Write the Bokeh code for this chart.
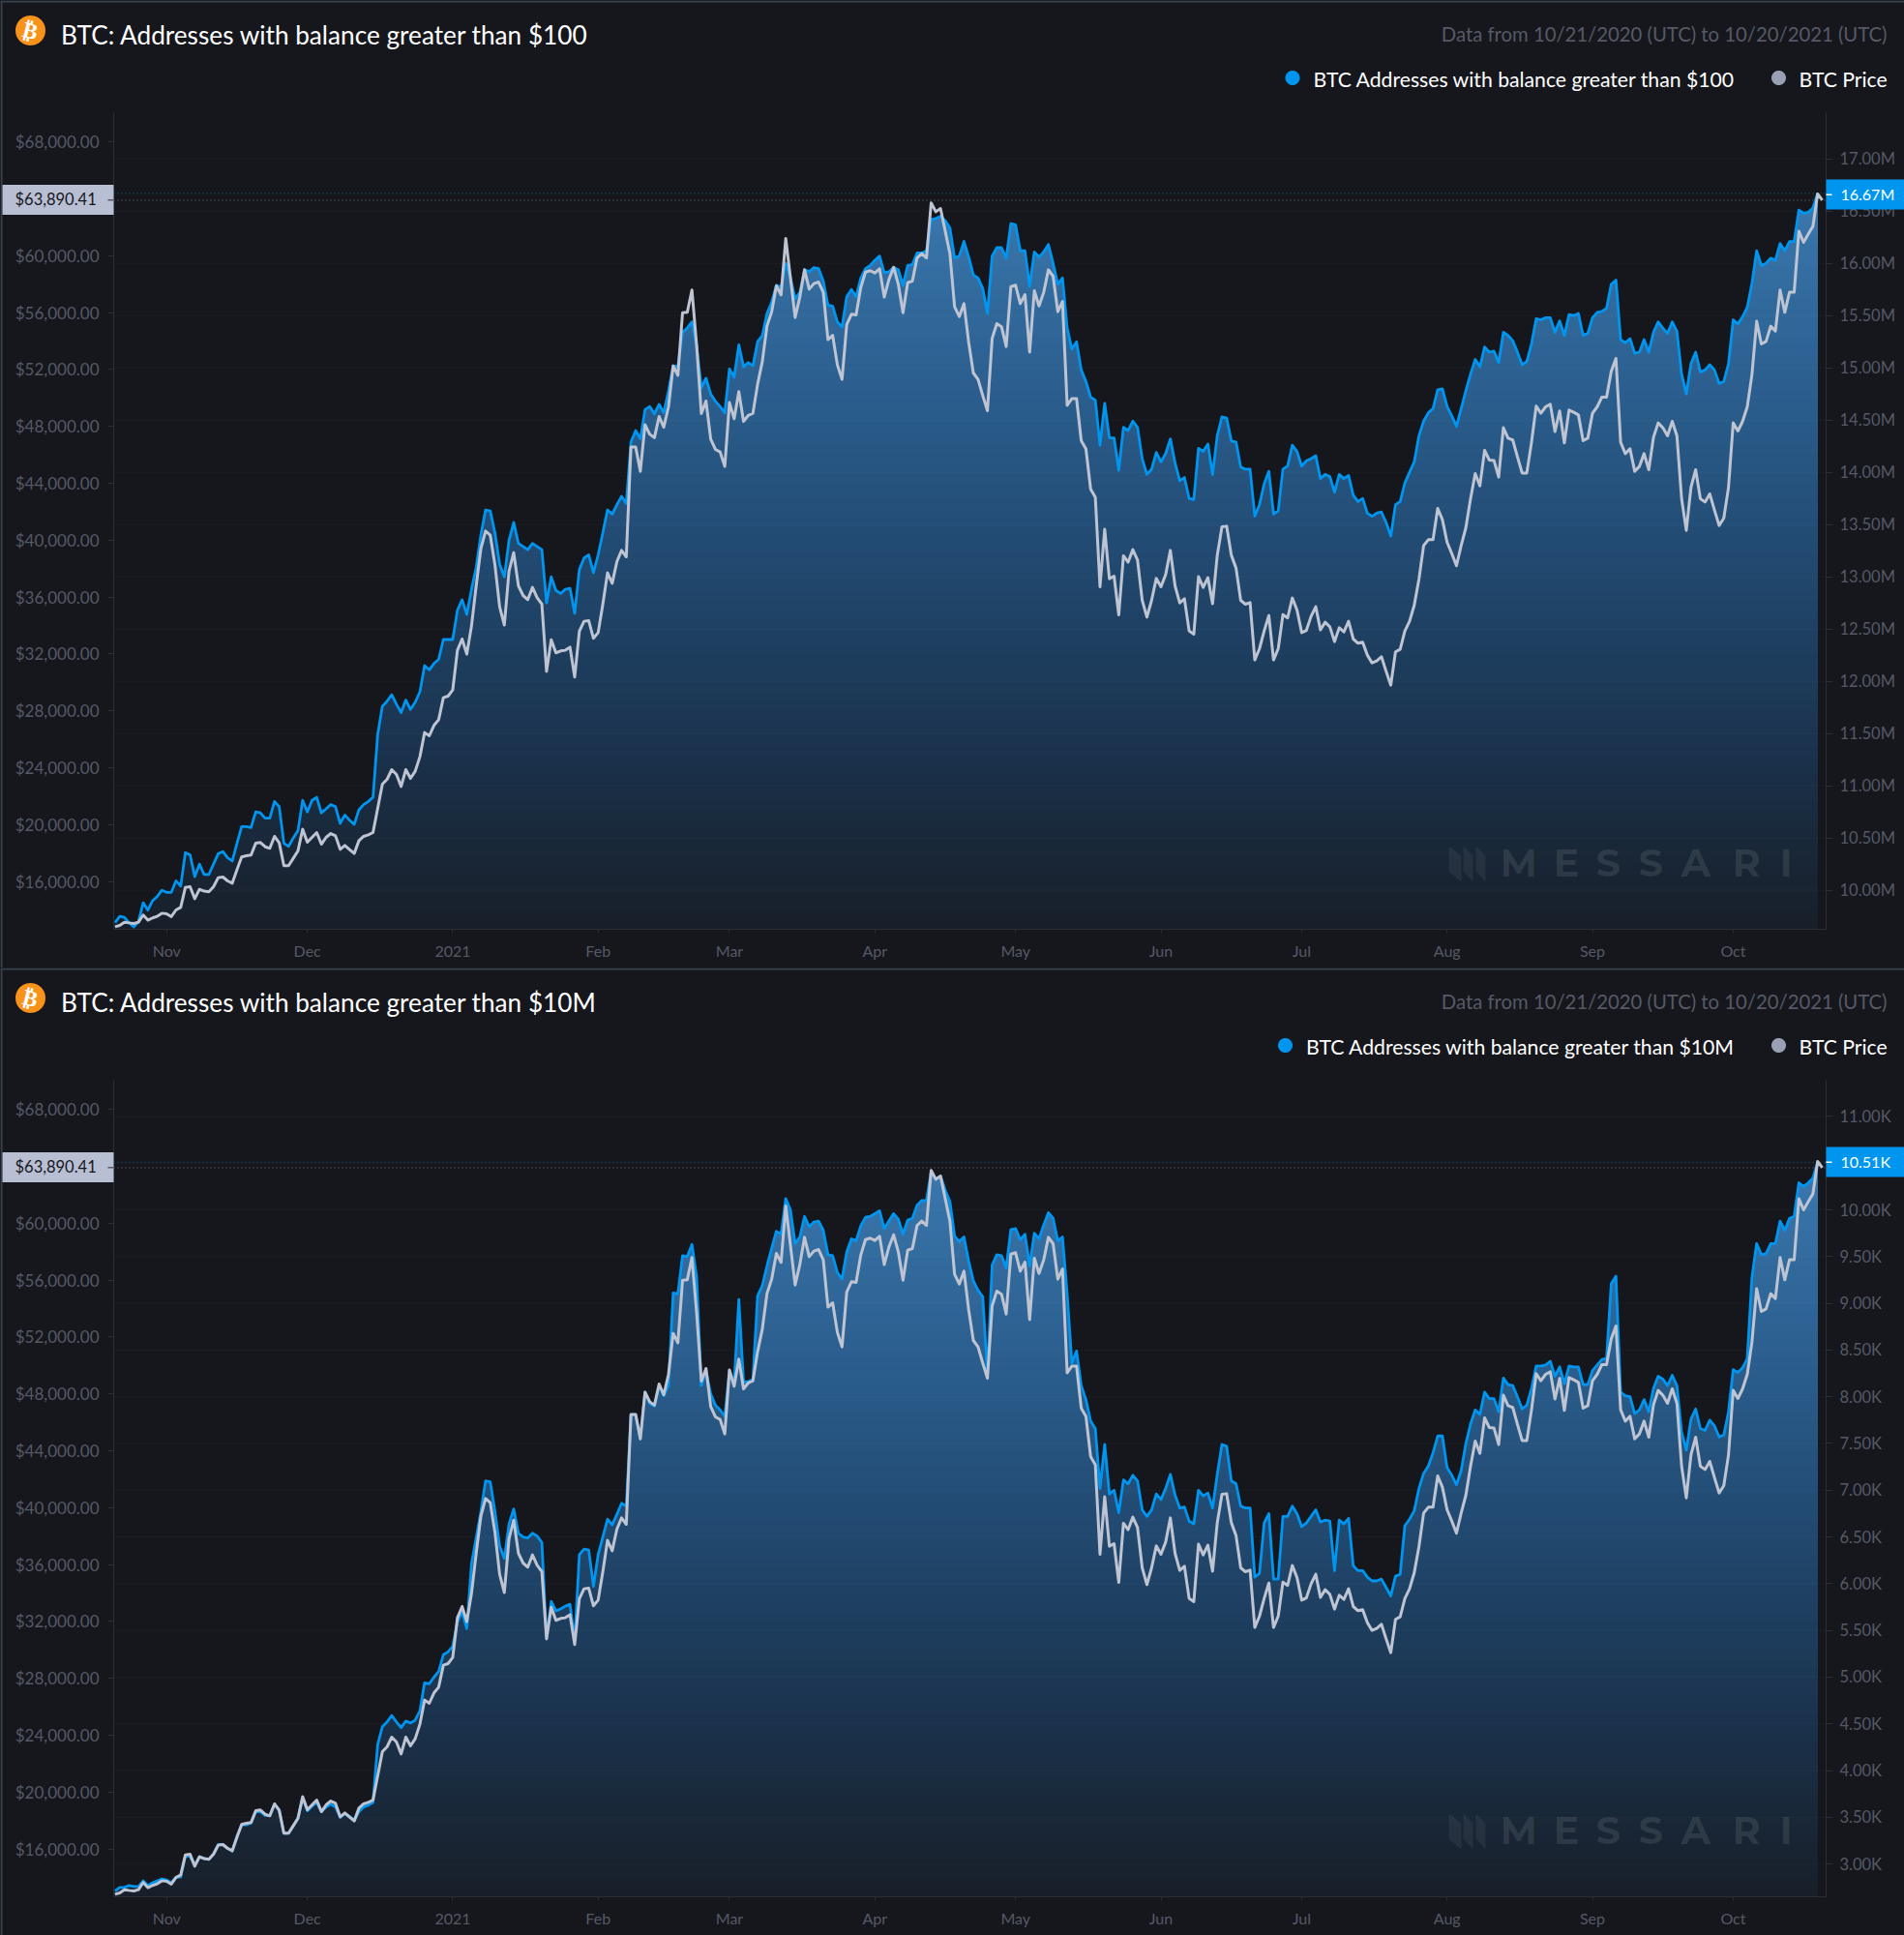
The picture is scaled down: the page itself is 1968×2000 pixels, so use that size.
import math
from datetime import datetime, timedelta, timezone
from bokeh.embed import file_html
from bokeh.layouts import column
from bokeh.models import FixedTicker, Label, LinearAxis, PolyAnnotation, Range1d
from bokeh.plotting import figure
from bokeh.resources import INLINE

# BTC price, thousand USD, one value a day from 2020-10-21
price_k = [
12.83,12.92,13.15,13.1,13.06,13.15,13.65,13.29,13.45,13.56,13.78,13.74,13.54,14.01,14.19,15.6,15.64,14.8,15.46,15.33,
15.28,15.64,16.28,16.32,16.05,15.89,16.84,17.73,17.82,17.87,18.7,18.75,18.45,18.34,19.18,18.73,17.12,17.12,17.64,18.16,
19.68,18.77,19.11,19.45,18.63,19.11,19.38,19.22,18.27,18.54,18.25,17.98,18.88,19.18,19.29,19.45,21.15,22.85,23.19,23.87,
23.53,22.69,23.87,23.26,23.76,24.78,26.48,26.25,26.98,27.38,28.93,29.04,29.47,32.26,33.05,31.99,33.96,36.79,39.4,40.64,
40.35,38.26,35.32,34.03,37.81,39.12,36.79,36.11,35.82,36.68,35.95,35.5,30.78,33.0,32.08,32.21,32.26,32.48,30.38,
33.6,34.3,34.34,33.1,33.5,35.5,37.7,36.97,38.49,39.28,38.83,46.54,46.54,44.84,48.12,47.44,47.2,48.69,47.94,49.37,52.25,
51.59,55.99,56.01,57.58,53.68,48.9,49.78,47.1,46.38,46.2,45.18,49.67,48.53,50.44,48.35,48.76,48.92,50.96,52.54,55.04,
56.06,57.87,57.24,61.2,58.44,55.65,57.08,59.0,57.64,58.03,58.14,57.42,54.09,54.4,52.32,51.3,55.15,55.88,55.83,57.76,
58.84,58.94,58.78,59.07,57.08,58.32,59.18,57.98,55.99,58.1,58.21,59.84,60.14,59.84,63.7,63.08,63.31,61.72,60.14,56.4,
55.72,56.62,53.9,51.75,51.3,50.16,49.1,54.17,55.22,55.0,53.61,
57.82,57.92,56.62,57.26,53.22,57.53,56.46,57.42,59.0,58.55,56.06,56.78,49.48,49.94,49.94,46.99,46.42,43.59,43.02,36.72,
40.76,37.29,37.47,34.75,38.9,38.45,39.33,38.6,35.77,34.59,35.77,37.31,36.72,37.58,39.28,36.79,35.59,35.88,33.62,33.39,
37.43,36.68,37.36,35.54,38.94,40.94,40.98,38.94,38.04,35.77,35.5,35.61,31.58,32.37,33.62,34.7,31.58,32.37,34.77,34.53,
35.93,35.09,33.5,33.66,34.64,35.32,33.69,34.23,33.91,32.87,33.84,33.55,34.3,33.05,32.76,32.83,31.92,31.37,31.51,31.81,
30.78,29.81,32.15,32.33,33.62,34.3,35.43,37.25,39.62,40.03,40.03,42.23,41.44,39.85,39.06,38.2,
39.62,40.87,42.91,44.68,43.82,46.31,45.63,45.59,44.43,47.9,47.17,47.04,45.86,44.72,44.72,46.88,49.42,48.92,49.37,49.55,
47.63,49.08,46.83,49.14,48.99,48.8,46.99,47.17,48.92,49.37,50.05,50.05,51.86,52.77,46.88,46.08,46.42,44.84,45.18,46.08,
44.95,47.22,48.24,47.9,47.33,48.35,47.33,42.91,40.69,43.71,44.95,42.91,42.68,43.25,42.12,41.03,41.55,43.71,48.24,47.67,
48.35,49.37,51.64,55.38,53.79,53.97,55.04,54.7,57.58,56.01,57.42,57.42,61.72,60.93,61.5,62.06,64.33,63.89]

# Addresses with balance greater than $100, millions
addr_100_m = [
9.69,9.75,9.74,9.69,9.65,9.7,9.88,9.81,9.9,9.94,10.0,9.98,9.98,10.09,10.04,10.36,10.34,10.13,10.25,10.15,
10.15,10.25,10.35,10.37,10.31,10.28,10.45,10.61,10.61,10.6,10.75,10.74,10.69,10.69,10.85,10.8,10.45,10.42,10.5,10.57,
10.86,10.75,10.86,10.89,10.74,10.78,10.82,10.8,10.64,10.72,10.67,10.63,10.77,10.82,10.85,10.89,11.49,11.76,11.81,11.87,
11.78,11.7,11.82,11.73,11.8,11.9,12.15,12.11,12.17,12.21,12.4,12.4,12.4,12.68,12.78,12.64,12.88,13.09,13.4,13.64,
13.63,13.42,13.12,13.0,13.35,13.52,13.32,13.29,13.26,13.32,13.29,13.26,12.75,13.0,12.87,12.84,12.88,12.89,
12.65,13.07,13.18,13.21,13.04,13.21,13.42,13.64,13.6,13.69,13.77,13.7,14.29,14.4,14.32,14.6,14.63,14.56,14.65,14.57,
14.78,15.02,15.01,15.34,15.38,15.44,15.21,14.81,14.9,14.75,14.68,14.63,14.57,14.99,14.91,15.22,15.01,15.05,15.02,15.25,
15.31,15.52,15.63,15.79,15.77,16.0,15.86,15.66,15.72,15.94,15.92,15.96,15.95,15.83,15.6,15.59,15.44,15.39,15.68,15.75,
15.68,15.86,15.95,15.98,16.03,16.07,15.91,15.92,15.96,15.94,15.79,15.98,15.99,16.1,16.1,16.12,16.42,16.43,16.45,16.41,
16.34,16.05,16.07,16.21,16.06,15.89,15.86,15.76,15.52,16.07,16.15,16.15,16.05,
16.38,16.37,16.12,16.12,15.78,16.11,16.06,16.11,16.18,16.0,15.8,15.86,15.38,15.18,15.25,14.98,14.87,14.72,14.69,14.26,
14.66,14.33,14.33,14.02,14.43,14.4,14.49,14.43,14.13,13.98,14.03,14.19,14.1,14.18,14.32,14.09,13.92,13.95,13.75,13.74,
14.23,14.2,14.27,13.98,14.35,14.53,14.52,14.3,14.29,14.05,14.03,14.03,13.58,13.69,13.89,14.01,13.6,13.63,14.03,14.06,
14.26,14.2,14.06,14.11,14.13,14.16,13.94,13.98,13.96,13.81,13.98,13.94,13.97,13.78,13.72,13.75,13.61,13.58,13.61,13.62,
13.52,13.39,13.69,13.72,13.9,14.0,14.1,14.35,14.49,14.57,14.61,14.79,14.8,14.63,14.54,14.44,
14.61,14.78,14.94,15.08,15.01,15.2,15.15,15.16,15.05,15.34,15.31,15.26,15.15,15.03,15.06,15.23,15.47,15.46,15.48,15.48,
15.34,15.45,15.31,15.51,15.5,15.52,15.31,15.33,15.48,15.53,15.54,15.57,15.8,15.84,15.27,15.24,15.28,15.14,15.15,15.27,
15.15,15.34,15.44,15.38,15.33,15.44,15.35,14.94,14.75,15.04,15.15,14.96,14.98,15.03,14.98,14.85,14.87,15.04,15.46,15.42,
15.49,15.58,15.81,16.12,15.98,16.0,16.05,16.03,16.19,16.12,16.21,16.21,16.51,16.48,16.49,16.53,16.67]

# Addresses with balance greater than $10M, thousands
addr_10m_k = [
2.71,2.75,2.75,2.77,2.76,2.76,2.82,2.77,2.8,2.82,2.84,2.83,2.8,2.86,2.86,3.09,3.08,2.99,3.08,3.06,
3.05,3.11,3.21,3.21,3.17,3.14,3.3,3.42,3.42,3.44,3.56,3.56,3.52,3.52,3.64,3.58,3.33,3.33,3.41,3.49,
3.71,3.57,3.62,3.66,3.56,3.61,3.64,3.61,3.5,3.54,3.51,3.47,3.56,3.61,3.63,3.66,4.28,4.47,4.52,4.59,
4.52,4.46,4.53,4.51,4.54,4.64,4.94,4.93,5.0,5.06,5.24,5.27,5.33,5.59,5.7,5.52,6.21,6.49,6.77,7.1,
7.09,6.77,6.4,6.27,6.64,6.8,6.54,6.5,6.49,6.54,6.51,6.44,5.42,5.81,5.71,5.73,5.76,5.78,5.39,
6.31,6.37,6.36,5.97,6.31,6.5,6.69,6.63,6.74,6.86,6.83,7.81,7.81,7.55,8.05,7.93,7.9,8.12,8.01,8.12,9.11,
9.1,9.51,9.5,9.63,9.28,8.12,8.28,8.03,7.91,7.86,7.79,8.28,8.14,9.04,8.16,8.16,8.19,9.08,9.19,9.4,
9.59,9.77,9.74,10.12,10.0,9.64,9.71,9.93,9.82,9.87,9.88,9.78,9.52,9.51,9.33,9.26,9.55,9.69,9.67,9.83,
9.92,9.93,9.96,9.99,9.8,9.88,9.96,9.9,9.74,9.89,9.91,10.05,10.1,10.1,10.41,10.33,10.36,10.21,10.09,9.72,
9.66,9.71,9.45,9.24,9.14,9.07,8.24,9.41,9.52,9.51,
9.38,9.79,9.8,9.68,9.74,9.4,9.75,9.69,9.84,9.97,9.91,9.67,9.71,9.1,8.36,8.49,8.12,7.97,7.74,7.66,
7.02,7.49,6.96,7.0,6.76,7.11,7.07,7.16,7.1,6.79,6.72,6.79,6.96,6.9,7.02,7.17,6.95,6.81,6.82,6.67,
6.64,7.0,6.94,6.97,6.81,7.17,7.49,7.47,7.1,7.07,6.83,6.81,6.81,6.07,6.11,6.65,6.75,6.05,6.05,6.72,
6.72,6.83,6.75,6.61,6.65,6.72,6.79,6.66,6.68,6.67,6.14,6.68,6.64,6.7,6.19,6.14,6.14,6.07,6.03,6.03,
6.05,5.96,5.87,6.08,6.1,6.62,6.69,6.78,7.02,7.18,7.26,7.4,7.58,7.58,7.24,7.16,7.06,
7.21,7.5,7.71,7.86,7.81,8.05,7.98,7.98,7.84,8.2,8.13,8.12,8.0,7.87,7.91,8.09,8.33,8.33,8.34,8.38,
8.22,8.32,8.14,8.33,8.32,8.32,8.13,8.13,8.28,8.34,8.4,8.41,9.21,9.29,8.05,8.01,8.0,7.82,7.86,7.97,
7.84,8.09,8.22,8.19,8.12,8.23,8.12,7.62,7.43,7.76,7.87,7.66,7.64,7.75,7.69,7.57,7.59,7.84,8.29,8.26,
8.31,8.41,9.28,9.64,9.52,9.53,9.64,9.64,9.88,9.78,9.91,9.93,10.29,10.25,10.29,10.34,10.51]

price_ticks = list(range(16, 72, 4))
addr_100_ticks = [10 + i * 0.5 for i in range(15)]
addr_10m_ticks = [3 + i * 0.5 for i in range(17)]
month_ticks = [(2020,11,"Nov"),(2020,12,"Dec"),(2021,1,"2021"),(2021,2,"Feb"),(2021,3,"Mar"),(2021,4,"Apr"),
               (2021,5,"May"),(2021,6,"Jun"),(2021,7,"Jul"),(2021,8,"Aug"),(2021,9,"Sep"),(2021,10,"Oct")]
last_price = "$63,890.41"

BG = "#16171d"; BLUE = "#0096f0"; WHITE = "#bfc4d2"; MUTED = "#555966"; FRAME = "#2b2e36"
W, H = 1968, 1000
FL, FR, FT, FB = 117, 1887, 116, 960   # plot box on the canvas, pixels
X0_PX, PX_DAY = 118.4, 4.848

start = datetime(2020, 10, 21, tzinfo=timezone.utc)
dates = [start + timedelta(days=i) for i in range(len(price_k))]
DAY_MS = 86400000.0
T0 = start.timestamp() * 1000

def px_to_ms(px):
    return T0 + (px - X0_PX) / PX_DAY * DAY_MS

stops = [(190,(60,122,176)),(300,(50,106,157)),(420,(42,92,139)),(540,(35,77,118)),(660,(30,63,96)),
         (780,(26,49,75)),(880,(25,38,54)),(960,(24,30,41))]

def grad(y):
    if y <= stops[0][0]:
        return "#%02x%02x%02x" % stops[0][1]
    for (a, ca), (b, cb) in zip(stops, stops[1:]):
        if y <= b:
            t = (y - a) / (b - a)
            return "#%02x%02x%02x" % tuple(round(u + (v - u) * t) for u, v in zip(ca, cb))
    return "#%02x%02x%02x" % stops[-1][1]

def txt(p, x, y, text, size, color, align="left", font="Lato", style="normal", angle=0, alpha=1.0):
    p.add_layout(Label(x=x, y=H - y, x_units="screen", y_units="screen", text=text, text_font=font,
                       text_font_size=f"{size}px", text_color=color, text_align=align, text_baseline="middle",
                       text_font_style=style, angle=angle, angle_units="deg", text_alpha=alpha))

def poly(p, xs, ys, color, alpha=1.0):
    p.add_layout(PolyAnnotation(xs=list(xs), ys=[H - y for y in ys], xs_units="screen", ys_units="screen",
                                fill_color=color, fill_alpha=alpha, line_color=None))

def dot(p, cx, cy, r, color):
    n = 48
    poly(p, [cx + r * math.cos(2 * math.pi * i / n) for i in range(n)],
         [cy + r * math.sin(2 * math.pi * i / n) for i in range(n)], color)

def rect(p, x0, x1, y0, y1, color):
    poly(p, [x0, x1, x1, x0], [y0, y0, y1, y1], color)

def style_axis(ax, size, out, standoff):
    ax.minor_tick_line_color = None
    ax.major_tick_out = out; ax.major_tick_in = 0
    ax.major_tick_line_color = FRAME; ax.axis_line_color = FRAME
    ax.major_label_text_color = MUTED; ax.major_label_text_font = "Lato"
    ax.major_label_text_font_size = f"{size}px"; ax.major_label_standoff = standoff

def panel(title, legend, legend_x, dot_x, series, ticks, rng, fmt, last):
    # the plot frame fills the canvas, so that the axes and texts can sit anywhere on it
    p = figure(width=W, height=H, x_axis_type=None, y_axis_type=None, output_backend="svg", toolbar_location=None,
               x_range=Range1d(px_to_ms(0), px_to_ms(W)), y_range=Range1d(9.93, 77.93),
               min_border=0, background_fill_color=BG, border_fill_color=BG, outline_line_color=None)
    p.extra_y_ranges = {"addr": Range1d(*rng)}
    p.grid.visible = False
    base_a = rng[1] + (rng[0] - rng[1]) * FB / H
    top_a = rng[1] + (rng[0] - rng[1]) * FT / H
    base_p = 77.93 - 68.0 * FB / H
    top_p = 77.93 - 68.0 * FT / H
    xl, xr = px_to_ms(FL), px_to_ms(FR)

    # gradient fill of the address area, as stacked bands from the tallest down
    n = 84
    d = dates[:len(series)]
    for i in range(n):
        y_px = FT + 60 + (FB - FT - 60) * i / (n - 1)
        level = rng[1] + (rng[0] - rng[1]) * y_px / H
        p.varea(x=d, y1=[base_a] * len(series), y2=[min(v, level) for v in series], y_range_name="addr",
                fill_color=grad(y_px), fill_alpha=1.0)

    p.segment(x0=[xl] * len(ticks), x1=[xr] * len(ticks), y0=ticks, y1=ticks, y_range_name="addr",
              line_color="#ffffff", line_alpha=0.10, line_dash="1 3", line_width=1)
    p.segment(x0=[xl], x1=[xr], y0=[last], y1=[last], y_range_name="addr", line_color="#0b628f", line_dash="1 3", line_width=1)
    p.segment(x0=[xl], x1=[xr], y0=[price_k[-1]], y1=[price_k[-1]], line_color="#70737c", line_dash="1 3", line_width=1)

    p.line(d, series, y_range_name="addr", line_color=BLUE, line_width=2.8, line_join="round")
    p.line(dates, price_k, line_color=WHITE, line_width=3, line_join="round")

    ms = [datetime(y, m, 1, tzinfo=timezone.utc).timestamp() * 1000 for y, m, _ in month_ticks]
    ax = LinearAxis(ticker=FixedTicker(ticks=ms), fixed_location=base_p, bounds=(xl, xr))
    ax.major_label_overrides = {t: l for t, (_, _, l) in zip(ms, month_ticks)}
    style_axis(ax, 16, 4, 8)
    p.add_layout(ax, "below")

    ly = LinearAxis(ticker=FixedTicker(ticks=price_ticks), fixed_location=xl, bounds=(base_p, top_p))
    ly.major_label_overrides = {t: f"${t * 1000:,.2f}" for t in price_ticks}
    style_axis(ly, 17, 6, 9)
    p.add_layout(ly, "left")

    ry = LinearAxis(y_range_name="addr", ticker=FixedTicker(ticks=ticks), fixed_location=xr, bounds=(base_a, top_a))
    ry.major_label_overrides = {t: fmt(t) for t in ticks}
    style_axis(ry, 16.5, 7, 7)
    p.add_layout(ry, "right")

    # panel border and divider
    rect(p, 0, W, 0, 2, "#38404c")
    rect(p, 0, 2, 0, H, "#38404c")

    # icon, title, date range
    dot(p, 31, 31, 15.5, "#f7931a")
    txt(p, 31, 31, "₿", 23, "#ffffff", "center", font="DejaVu Sans", style="bold", angle=-14)
    txt(p, 62.5, 35, title, 26.2, "#ffffff")
    txt(p, 1950, 34, "Data from 10/21/2020 (UTC) to 10/20/2021 (UTC)", 20.3, MUTED, "right")

    # legend
    dot(p, dot_x, 80, 7.5, BLUE)
    txt(p, legend_x, 81, legend, 21.2, "#ffffff")
    dot(p, 1838, 80, 7.5, "#9aa0b4")
    txt(p, 1859, 81, "BTC Price", 21.2, "#ffffff")

    # value tags
    rect(p, 2, 117, 190.5, 221.5, "#b8bfd3")
    rect(p, 111, 117, 205.5, 207, "#555966")
    txt(p, 15, 205, last_price, 16.5, BG)
    rect(p, 1887, W, 185, 216, BLUE)
    rect(p, 1887, 1893, 200, 201.5, "#ffffff")
    txt(p, 1902, 200, fmt(last), 16, "#ffffff")

    # watermark
    for x, ch in zip([1550, 1605, 1649, 1693, 1737, 1790, 1839], "MESSARI"):
        txt(p, x, 891, ch, 40, "#ffffff", font="Montserrat, Open Sans", style="bold", alpha=0.09)
    for pts in ([1497, 1510, 1510, 1497], [1512, 1522, 1522, 1512], [1525, 1535, 1535, 1525]):
        poly(p, pts, [874, 884, 911, 900], "#ffffff", 0.06)
    return p

p1 = panel("BTC: Addresses with balance greater than $100", "BTC Addresses with balance greater than $100", 1357, 1335.5,
           addr_100_m, addr_100_ticks, (9.256, 18.516), lambda t: f"{t:.2f}M", 16.67)
p2 = panel("BTC: Addresses with balance greater than $10M", "BTC Addresses with balance greater than $10M", 1349.5, 1328,
           addr_10m_k, addr_10m_ticks, (2.236, 12.588), lambda t: f"{t:.2f}K", 10.51)

page = column(p1, p2, spacing=0)
html = file_html(page, INLINE)
html = html.replace("<head>", f"<head><style>html,body{{margin:0;padding:0;background:{BG}}}</style>", 1)
open("out.html", "w").write(html)
